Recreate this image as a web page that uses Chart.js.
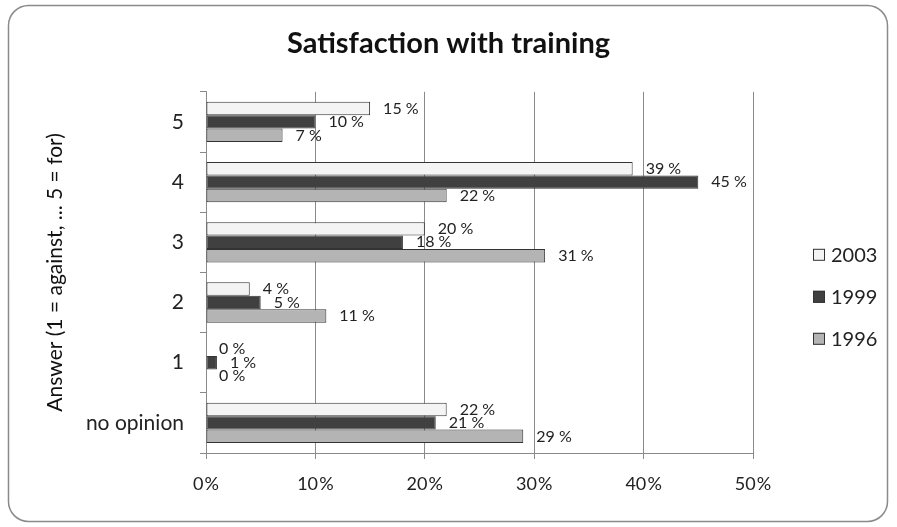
<!DOCTYPE html>
<html>
<head>
<meta charset="utf-8">
<script src="https://cdn.jsdelivr.net/npm/chart.js@4.4.0/dist/chart.umd.min.js"></script>
<style>
  html, body { margin: 0; padding: 0; background: #fff; }
</style>
</head>
<body>
<canvas id="grafico" width="897" height="527"></canvas>
<script>
// Datos de la gráfica
var categorias = ["5", "4", "3", "2", "1", "no opinion"];
var valores2003 = [15, 39, 20, 4, 0, 22];
var valores1999 = [10, 45, 18, 5, 1, 21];
var valores1996 = [7, 22, 31, 11, 0, 29];
var ticksX = [0, 10, 20, 30, 40, 50];

var fuente = "Lato, 'Open Sans', sans-serif";

// Marco redondeado y fondo
var marco = {
  id: "marco",
  beforeDraw: function(chart) {
    var ctx = chart.ctx;
    ctx.save();
    ctx.fillStyle = "#fff";
    ctx.fillRect(0, 0, chart.width, chart.height);
    ctx.restore();
  },
  afterDraw: function(chart) {
    var ctx = chart.ctx;
    ctx.save();
    ctx.strokeStyle = "#8a8a8a";
    ctx.lineWidth = 1.5;
    ctx.beginPath();
    ctx.roundRect(8.5, 5.5, 879, 516, 20);
    ctx.stroke();
    ctx.restore();
  }
};

// Etiquetas de valores al final de cada barra
var etiquetas = {
  id: "etiquetas",
  afterDatasetsDraw: function(chart) {
    var ctx = chart.ctx;
    ctx.save();
    ctx.font = "16px " + fuente;
    ctx.fillStyle = "#222";
    ctx.textAlign = "left";
    ctx.textBaseline = "middle";
    chart.data.datasets.forEach(function(ds, i) {
      var meta = chart.getDatasetMeta(i);
      meta.data.forEach(function(bar, j) {
        ctx.fillText(ds.data[j] + " %", bar.x + 13, bar.y);
      });
    });
    ctx.restore();
  }
};

// Leyenda a la derecha
var leyenda = {
  id: "leyenda",
  afterDraw: function(chart) {
    var ctx = chart.ctx;
    var area = chart.chartArea;
    ctx.save();
    ctx.font = "20px " + fuente;
    ctx.textBaseline = "middle";
    chart.data.datasets.forEach(function(ds, i) {
      var y = area.top + 163 + i * 42;
      var x = area.right + 60;
      ctx.fillStyle = ds.backgroundColor;
      ctx.fillRect(x, y - 6, 12, 12);
      ctx.strokeStyle = "#333";
      ctx.lineWidth = 1;
      ctx.strokeRect(x + 0.5, y - 5.5, 11, 11);
      ctx.fillStyle = "#222";
      ctx.fillText(ds.label, x + 18, y + 1);
    });
    ctx.restore();
  }
};

var data = {
  labels: categorias,
  datasets: [
    { label: "2003", data: valores2003, backgroundColor: "#f4f4f4" },
    { label: "1999", data: valores1999, backgroundColor: "#404040" },
    { label: "1996", data: valores1996, backgroundColor: "#b4b4b4" }
  ]
};

data.datasets.forEach(function(ds) {
  ds.borderColor = "#333";
  ds.borderWidth = 1;
  ds.borderSkipped = false;
  ds.categoryPercentage = 0.67;
  ds.barPercentage = 1.0;
});

new Chart(document.getElementById("grafico"), {
  type: "bar",
  data: data,
  options: {
    indexAxis: "y",
    responsive: false,
    animation: false,
    layout: { padding: { left: 10, right: 10, top: 0, bottom: 0 } },
    plugins: {
      legend: { display: false },
      tooltip: { enabled: false },
      title: {
        display: true,
        text: "Satisfaction with training",
        color: "#111",
        font: { family: fuente, size: 29, weight: "bold" },
        padding: { top: 26, bottom: 31 }
      }
    },
    scales: {
      x: {
        min: 0,
        max: 50,
        afterBuildTicks: function(scale) {
          scale.ticks = ticksX.map(function(v) { return { value: v }; });
        },
        afterFit: function(scale) { scale.height = 527 - 453; },
        grid: { color: "#8a8a8a", tickLength: 6, lineWidth: 1 },
        border: { color: "#8a8a8a" },
        ticks: {
          color: "#222",
          padding: 14,
          font: { family: fuente, size: 18 },
          maxRotation: 0,
          callback: function(v) { return v + "\u200A%"; }
        }
      },
      y: {
        afterFit: function(scale) { scale.width = 206 - 10; },
        grid: { drawOnChartArea: false, color: "#8a8a8a", tickLength: 6, offset: true },
        border: { color: "#8a8a8a" },
        ticks: {
          color: "#222",
          padding: 16,
          font: { family: fuente, size: 21 }
        },
        title: {
          display: true,
          text: "Answer (1 = against, ... 5 = for)",
          color: "#111",
          font: { family: fuente, size: 21 },
          padding: { top: 33, bottom: 0 }
        }
      },
      // eje vacío a la derecha para reservar espacio a la leyenda
      yDer: {
        type: "category",
        position: "right",
        labels: categorias,
        afterFit: function(scale) { scale.width = 887 - 753; },
        grid: { display: false },
        border: { display: false },
        ticks: { display: false }
      }
    }
  },
  plugins: [marco, etiquetas, leyenda]
});
</script>
</body>
</html>
